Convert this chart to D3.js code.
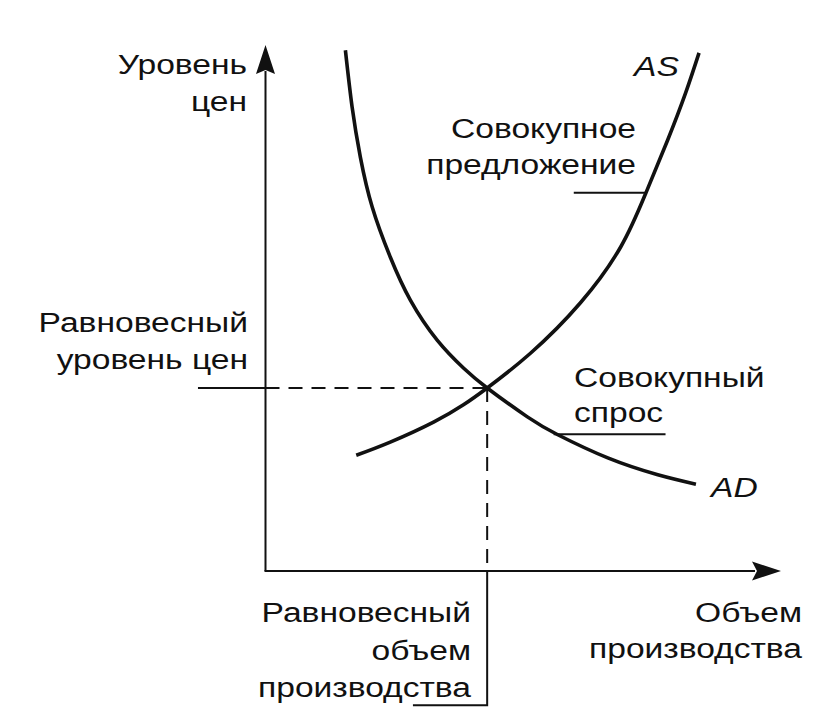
<!DOCTYPE html>
<html lang="ru">
<head>
<meta charset="UTF-8"/>
<title>AD-AS</title>
<script src="https://d3js.org/d3.v7.min.js"></script>
<style>
  html, body { margin: 0; padding: 0; background: #fff; }
  svg { display: block; }
  .lbl { font-family: "Liberation Sans", Arial, sans-serif; font-size: 28px; fill: #111; }
  .lbl.it { font-style: italic; }
  .curve { fill: none; stroke: #111; stroke-width: 3.6px; }
  .axis { fill: none; stroke: #111; stroke-width: 2px; }
  .guide { fill: none; stroke: #111; stroke-width: 2px; }
  .guide.dash { stroke-dasharray: 14 9; }
</style>
</head>
<body>
<script>
  // совокупный спрос (AD): объем q, уровень цен p
  var adQ = [15.5, 16.8, 18.4, 20.7, 24.2, 28.1, 33.3, 38.4, 43.0, 50.8, 56.7, 66.4, 76.1, 83.5];
  var adP = [99.0, 88.2, 78.7, 69.2, 59.7, 51.5, 43.9, 38.6, 34.8, 29.3, 25.9, 21.5, 18.3, 16.5];

  // совокупное предложение (AS)
  var asQ = [17.6, 24.2, 32.6, 38.4, 43.0, 51.4, 61.1, 68.9, 73.8, 78.0, 81.5, 84.1];
  var asP = [22.0, 24.5, 28.3, 31.6, 34.8, 41.4, 51.0, 61.6, 71.9, 81.9, 90.9, 98.5];

  // равновесие
  var eqQ = 43.0, eqP = 34.8;

  // выноски к подписям кривых
  var asLeaderQ = [59.8, 73.9], asLeaderP = 71.9;
  var adLeaderQ = [55.9, 77.6], adLeaderP = 26.0;

  var width = 824, height = 728;

  var x = d3.scaleLinear().domain([0, 100]).range([265.5, 781]);
  var y = d3.scaleLinear().domain([0, 100]).range([571, 45]);

  var svg = d3.select("body").append("svg")
    .attr("width", width)
    .attr("height", height);

  var line = d3.line()
    .x(function(d) { return x(d[0]); })
    .y(function(d) { return y(d[1]); })
    .curve(d3.curveNatural);

  // оси
  svg.append("path").attr("class", "axis")
    .attr("d", "M" + x(0) + "," + y(0) + "V" + (y(100) + 26));
  svg.append("path").attr("class", "axis")
    .attr("d", "M" + (x(0) - 1) + "," + y(0) + "H" + (x(100) - 26));

  // стрелки
  var ax = x(0), ay = y(100);
  svg.append("path").attr("fill", "#111")
    .attr("d", "M" + ax + "," + ay + "L" + (ax + 9.5) + "," + (ay + 29) +
      "L" + ax + "," + (ay + 25) + "L" + (ax - 9.5) + "," + (ay + 29) + "Z");
  var bx = x(100), by = y(0);
  svg.append("path").attr("fill", "#111")
    .attr("d", "M" + bx + "," + by + "L" + (bx - 29) + "," + (by + 9.5) +
      "L" + (bx - 24) + "," + by + "L" + (bx - 29) + "," + (by - 9.5) + "Z");

  // пунктир к равновесию
  svg.append("path").attr("class", "guide")
    .attr("d", "M" + x(-13.1) + "," + y(eqP) + "H" + x(0));
  svg.append("path").attr("class", "guide dash")
    .attr("d", "M" + x(0) + "," + y(eqP) + "H" + x(eqQ));
  svg.append("path").attr("class", "guide dash")
    .attr("d", "M" + x(eqQ) + "," + y(eqP) + "V" + y(0));
  svg.append("path").attr("class", "guide")
    .attr("d", "M" + x(eqQ) + "," + y(0) + "V" + y(-25.5) + "H" + x(28.6));

  // выноски
  svg.append("path").attr("class", "guide")
    .attr("d", "M" + x(asLeaderQ[0]) + "," + y(asLeaderP) + "H" + x(asLeaderQ[1]));
  svg.append("path").attr("class", "guide")
    .attr("d", "M" + x(adLeaderQ[0]) + "," + y(adLeaderP) + "H" + x(adLeaderQ[1]));

  // кривые
  svg.append("path").attr("class", "curve")
    .attr("d", line(d3.zip(adQ, adP)));
  svg.append("path").attr("class", "curve")
    .attr("d", line(d3.zip(asQ, asP)));

  // подписи
  var sx = 1.2;
  function label(lines, px, py, anchor, lh, cls) {
    lines.forEach(function(t, i) {
      svg.append("text")
        .attr("class", "lbl" + (cls ? " " + cls : ""))
        .attr("text-anchor", anchor)
        .attr("transform", "translate(" + px + "," + (py + i * lh) + ") scale(" + sx + ",1)")
        .text(t);
    });
  }

  label(["Уровень", "цен"], 247, 74, "end", 37);
  label(["AS"], 634, 76, "start", 0, "it");
  label(["Совокупное", "предложение"], 636, 138, "end", 36);
  label(["Равновесный", "уровень цен"], 248, 332, "end", 37);
  label(["Совокупный", "спрос"], 574, 387, "start", 35);
  label(["AD"], 711, 497, "start", 0, "it");
  label(["Равновесный", "объем", "производства"], 471, 622, "end", 37.5);
  label(["Объем", "производства"], 802, 622, "end", 36);
</script>
</body>
</html>
